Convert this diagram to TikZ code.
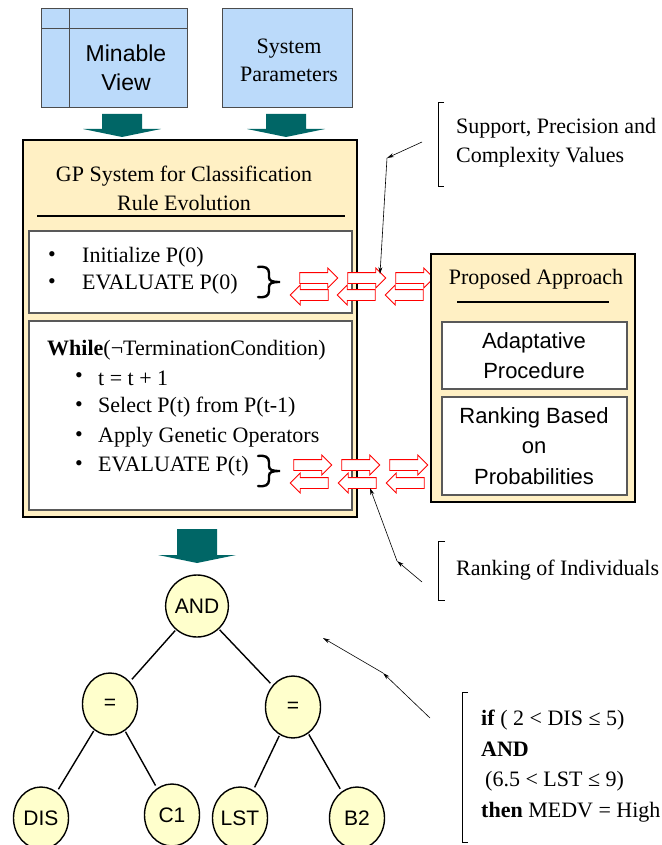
\documentclass[tikz,border=0pt]{standalone}
\usepackage{fontspec}
\setmainfont{Liberation Serif}
\setsansfont{Liberation Sans}
\usetikzlibrary{shapes.geometric,shapes.arrows,arrows.meta}

\definecolor{viewblue}{RGB}{187,218,250}
\definecolor{gpyellow}{RGB}{255,240,196}
\definecolor{treeyellow}{RGB}{255,255,204}
\definecolor{gpteal}{RGB}{0,102,102}

\newcommand{\fs}[1]{\fontsize{#1}{1.2\dimexpr#1pt\relax}\selectfont}

\tikzset{
  pane/.style={draw=black!65, line width=1.2pt, fill=white},
  bigbox/.style={draw=black, line width=2pt, fill=gpyellow},
  swap/.style={single arrow, draw=red, fill=white, line width=0.8pt,
    minimum height=38pt, inner xsep=0pt, inner ysep=5pt,
    single arrow head extend=4.5pt},
  treenode/.style={ellipse, draw=black, line width=1.4pt, fill=treeyellow,
    minimum width=55pt, minimum height=62pt, inner sep=0pt,
    font=\sffamily\fs{21}},
  note/.style={-{Stealth[length=7pt,width=4pt]}, line width=0.6pt},
  txt/.style={inner sep=0pt, font=\fs{22}},
  curly/.style={line width=2.4pt, line cap=round},
}

\begin{document}
\begin{tikzpicture}[x=1pt,y=-1pt]
  \useasboundingbox (0,0) rectangle (661,845);

  % input tables
  \draw[draw=black!70, line width=1pt, fill=viewblue] (41,9) rectangle (187,108);
  \draw[black!70, line width=1pt] (69,9) -- (69,108) (41,29) -- (187,29);
  \node[inner sep=0pt, align=center, font=\sffamily\fontsize{23}{29}\selectfont] (view) at (126,68) {Minable\\View};
  \draw[draw=black!70, line width=1pt, fill=viewblue] (222,9) rectangle (352,108);
  \node[inner sep=0pt, align=center, font=\fontsize{22}{28}\selectfont] (params) at (289,60) {System\\Parameters};

  % block arrows
  \foreach \x/\y/\l in {122/114/15, 286/114/15, 197/529/26} {
    \fill[gpteal] (\x-20,\y) -- (\x+20,\y) -- (\x+20,\y+\l) -- (\x+39,\y+\l)
      -- (\x,\y+\l+8) -- (\x-39,\y+\l) -- (\x-20,\y+\l) -- cycle;
  }

  % GP system
  \draw[bigbox] (23,140) rectangle (357,517);
  \node[inner sep=0pt, align=center, font=\fontsize{22}{29}\selectfont] (gp) at (184,188) {GP System for Classification\\Rule Evolution};
  \draw[line width=1.5pt] (37,216) -- (345,216);

  \draw[pane] (29,231) rectangle (352,313);
  \node[txt] (b1) at (52,257) {•};
  \node[txt, anchor=west] (init) at (82,257) {Initialize P(0)};
  \node[txt] (b2) at (52,284) {•};
  \node[txt, anchor=west] (eval0) at (82,284) {EVALUATE P(0)};

  \draw[pane] (29,321) rectangle (352,510);
  \node[txt, anchor=west] (loop) at (47,350) {\textbf{While}(¬TerminationCondition)};
  \foreach \y/\t [count=\i] in {378/{t = t + 1}, 407/{Select P(t) from P(t-1)},
      437/{Apply Genetic Operators}, 466/{EVALUATE P(t)}} {
    \node[txt] (dot\i) at (79,\y) {•};
    \node[txt, anchor=west] (step\i) at (98,\y) {\t};
  }

  % braces after both evaluations
  \foreach \y in {282,471}
    \draw[curly] (258,\y-15) .. controls (265,\y-16) and (269,\y-14) .. (269,\y-9)
      -- (269,\y-5) .. controls (269,\y-1) and (272,\y) .. (280,\y)
      .. controls (272,\y) and (269,\y+1) .. (269,\y+5) -- (269,\y+9)
      .. controls (269,\y+14) and (265,\y+16) .. (258,\y+15);

  % exchange arrows
  \foreach \x [count=\i] in {316,364,412}
    \node[swap] (topr\i) at (\x,278) {};
  \foreach \x [count=\i] in {312,359,407}
    \node[swap, shape border rotate=180] (topl\i) at (\x,295) {};
  \foreach \x [count=\i] in {310,358,406}
    \node[swap] (botr\i) at (\x,465) {};
  \foreach \x [count=\i] in {312,360,408}
    \node[swap, shape border rotate=180] (botl\i) at (\x,483) {};

  % proposed approach
  \draw[bigbox] (431,254) rectangle (635,502);
  \node[txt] (approach) at (536,279) {Proposed Approach};
  \draw[line width=1.5pt] (457,302) -- (609,302);
  \draw[pane] (442,322) rectangle (627,389);
  \node[inner sep=0pt, align=center, font=\sffamily\fontsize{22}{30}\selectfont] (adapt) at (534,356) {Adaptative\\Procedure};
  \draw[pane] (442,397) rectangle (627,495);
  \node[inner sep=0pt, align=center, font=\sffamily\fontsize{22}{30.5}\selectfont] (rankprob) at (534,446) {Ranking Based\\on\\Probabilities};

  % notes
  \draw[line width=0.8pt] (444,102) -| (438,186) -- (444,186);
  \node[txt, anchor=west, align=left, font=\fontsize{22}{29}\selectfont] (supnote) at (456,143) {Support, Precision and\\Complexity Values};
  \coordinate (supfrom) at (422,142);
  \coordinate (supbend) at (387,158);
  \coordinate (supto) at (380,274);
  \draw[note] (supfrom) -- (supbend);
  \draw[note] (supbend) -- (supto);

  \draw[line width=0.8pt] (445,541) -| (438,600) -- (445,600);
  \node[txt, anchor=west] (ranknote) at (456,570) {Ranking of Individuals};
  \coordinate (rankfrom) at (422,582);
  \coordinate (rankbend) at (397,561);
  \coordinate (rankto) at (370,488);
  \draw[note] (rankfrom) -- (rankbend);
  \draw[note] (rankbend) -- (rankto);

  \draw[line width=0.8pt] (468,692) -| (462,842) -- (468,842);
  \node[txt, anchor=west, align=left, font=\fontsize{22}{30.5}\selectfont] (rulenote) at (481,766)
    {\textbf{if} ( 2 < DIS ≤ 5)\\\textbf{AND}\\\hspace{4pt}(6.5 < LST ≤ 9)\\\textbf{then} MEDV = High};
  \coordinate (rulefrom) at (430,718);
  \coordinate (rulebend) at (383,673);
  \coordinate (ruleto) at (323,638);
  \draw[note] (rulefrom) -- (rulebend);
  \draw[note] (rulebend) -- (ruleto);

  % rule tree
  \node[treenode] (and) at (197,606) {AND};
  \node[treenode] (eql) at (110,704) {=};
  \node[treenode] (eqr) at (293,707) {=};
  \node[treenode] (dis) at (41,818) {DIS};
  \node[treenode] (c1) at (172,815) {C1};
  \node[treenode] (lst) at (240,818) {LST};
  \node[treenode] (b2) at (357,818) {B2};
  \foreach \a/\b in {and/eql, and/eqr, eql/dis, eql/c1, eqr/lst, eqr/b2}
    \draw[line width=1.4pt, shorten >=3pt, shorten <=1pt] (\a) -- (\b);
\end{tikzpicture}
\end{document}
